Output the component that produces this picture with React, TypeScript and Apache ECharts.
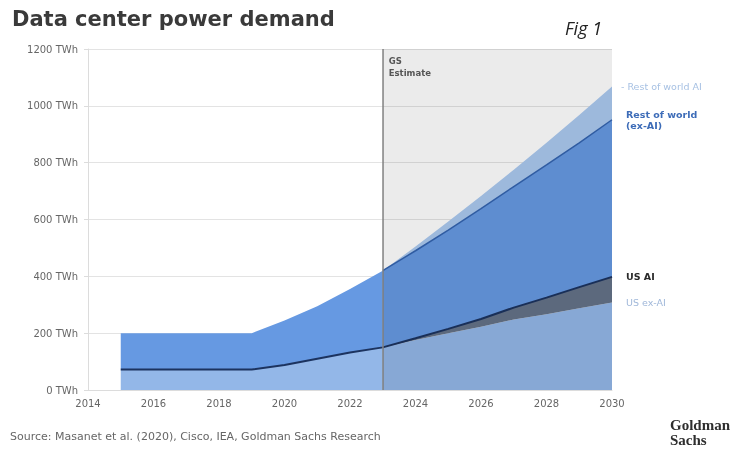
import React, { useEffect, useRef } from "react";
import * as echarts from "echarts";

const axisYears = ["2014", "2015", "2016", "2017", "2018", "2019", "2020", "2021", "2022", "2023", "2024", "2025", "2026", "2027", "2028", "2029", "2030"];
const years = [2015, 2016, 2017, 2018, 2019, 2020, 2021, 2022, 2023, 2024, 2025, 2026, 2027, 2028, 2029, 2030];
const usExAI = [72, 72, 72, 72, 72, 88, 110, 132, 150, 176, 200, 223, 248, 267, 288, 308];
const usAI = [0, 0, 0, 0, 0, 0, 0, 0, 0, 6, 15, 27, 42, 58, 74, 90];
const rowExAI = [128, 128, 128, 128, 128, 157, 185, 223, 270, 308, 348, 388, 426, 467, 508, 553];
const rowAI = [0, 0, 0, 0, 0, 0, 0, 0, 0, 15, 30, 45, 59, 78, 98, 117];
const estimateStart = "2023";
const estimateEnd = "2030";

const FONT = "DejaVu Sans";

export default function App() {
  const ref = useRef<HTMLDivElement>(null);
  useEffect(() => {
    if (!ref.current) return;
    const chart = echarts.init(ref.current, null, { renderer: "svg" });
    const toAxis = (arr: (number | null)[]) =>
      axisYears.map((y) => {
        const i = years.indexOf(Number(y));
        return i < 0 ? null : arr[i];
      });
    const edge = years.map((y, i) =>
      y >= Number(estimateStart) ? usExAI[i] + usAI[i] + rowExAI[i] : null
    );
    const baseLabel = { show: true, fontFamily: FONT, fontSize: 9.5, distance: 14, valueAnimation: false };
    chart.setOption({
      animation: false,
      textStyle: { fontFamily: FONT },
      title: {
        text: "Data center power demand",
        left: 7,
        top: 3,
        textStyle: { fontFamily: FONT, fontSize: 21, fontWeight: "bold", color: "#3a3a3a" },
      },
      grid: { left: 88, right: 122, top: 49, bottom: 66 },
      xAxis: {
        type: "category",
        data: axisYears,
        boundaryGap: false,
        axisLine: { show: true, lineStyle: { color: "#dcdcdc" } },
        axisTick: { show: false },
        splitLine: { show: false },
        axisLabel: { color: "#666", fontSize: 10, margin: 8, interval: 1 },
      },
      yAxis: {
        type: "value",
        min: 0,
        max: 1200,
        interval: 200,
        axisLine: { show: true, lineStyle: { color: "#dcdcdc" } },
        axisTick: { show: true, length: 4, lineStyle: { color: "#dcdcdc" } },
        splitLine: { show: true, lineStyle: { color: "#e3e3e3" } },
        axisLabel: { color: "#666", fontSize: 10, margin: 10, formatter: (v: number) => v + " TWh" },
      },
      series: [
        {
          name: "US ex-AI",
          type: "line",
          stack: "total",
          data: toAxis(usExAI),
          showSymbol: false,
          lineStyle: { width: 0 },
          areaStyle: { color: "#93b7e8", opacity: 1 },
          endLabel: { ...baseLabel, formatter: "US ex-AI", color: "#9fb7d9" },
        },
        {
          name: "US AI",
          type: "line",
          stack: "total",
          data: toAxis(usAI),
          showSymbol: false,
          lineStyle: { width: 2, color: "#1c335f" },
          areaStyle: { color: "#647288", opacity: 1 },
          endLabel: { ...baseLabel, formatter: "US AI", color: "#2b2b2b", fontWeight: "bold" },
        },
        {
          name: "Rest of world (ex-AI)",
          type: "line",
          stack: "total",
          data: toAxis(rowExAI),
          showSymbol: false,
          lineStyle: { width: 0 },
          areaStyle: { color: "#6699e2", opacity: 1 },
          endLabel: {
            ...baseLabel,
            formatter: "Rest of world\n(ex-AI)",
            color: "#3d6cb8",
            fontWeight: "bold",
            lineHeight: 11,
          },
        },
        {
          name: "Rest of world AI",
          type: "line",
          stack: "total",
          data: toAxis(rowAI),
          showSymbol: false,
          lineStyle: { width: 0 },
          areaStyle: { color: "#abc9ef", opacity: 1 },
          endLabel: { ...baseLabel, distance: 9, formatter: "- Rest of world AI", color: "#a7c1e3" },
        },
        {
          name: "edge",
          type: "line",
          data: toAxis(edge),
          z: 4,
          showSymbol: false,
          lineStyle: { width: 1.5, color: "#3464b0" },
          markArea: {
            silent: true,
            z: 10,
            itemStyle: { color: "rgba(0,0,0,0.08)" },
            label: {
              show: true,
              position: "insideTopLeft",
              formatter: "GS\nEstimate",
              color: "#555",
              fontSize: 8.5,
              fontWeight: "bold",
              lineHeight: 12,
              distance: 6,
            },
            data: [[{ xAxis: estimateStart }, { xAxis: estimateEnd }]],
          },
          markLine: {
            silent: true,
            symbol: ["none", "none"],
            label: { show: false },
            lineStyle: { color: "#888", width: 1.5, type: "solid" },
            data: [{ xAxis: estimateStart }],
          },
        },
      ],
      graphic: [
        {
          type: "text",
          left: 565,
          top: 19,
          style: { text: "Fig 1", font: "italic 18px 'Open Sans'", fill: "#222" },
        },
        {
          type: "text",
          left: 10,
          top: 431,
          style: {
            text: "Source: Masanet et al. (2020), Cisco, IEA, Goldman Sachs Research",
            font: "11px 'DejaVu Sans'",
            fill: "#666",
          },
        },
        {
          type: "text",
          left: 670,
          top: 417,
          style: {
            text: "Goldman\nSachs",
            font: "bold 15px 'Liberation Serif'",
            lineHeight: 15,
            fill: "#2e2e2e",
          },
        },
      ],
    });
    return () => chart.dispose();
  }, []);
  return <div ref={ref} style={{ position: "fixed", left: 0, top: 0, width: 734, height: 456 }} />;
}
